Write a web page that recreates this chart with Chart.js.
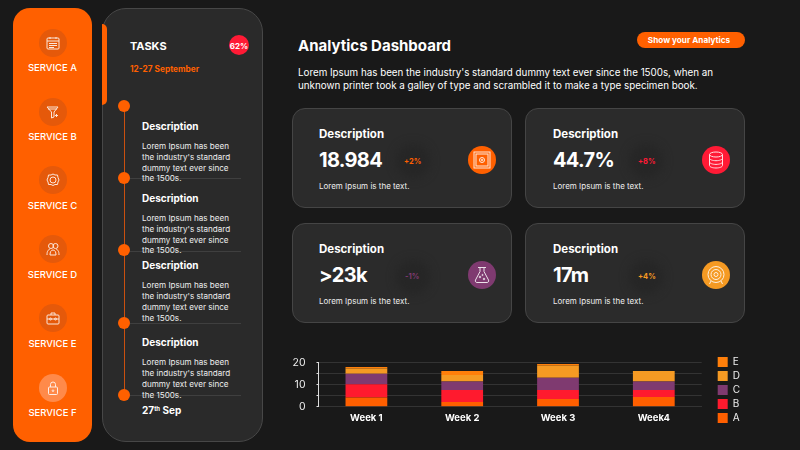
<!DOCTYPE html>
<html lang="en">
<head>
    <meta charset="UTF-8">
    <title>Analytics Dashboard</title>
    <script src="https://cdn.jsdelivr.net/npm/chart.js"></script>
    <style>
        html, body { margin: 0; padding: 0; }
        body {
            width: 800px; height: 450px; overflow: hidden; position: relative;
            background: #191919; color: #fff;
            font-family: 'Inter', sans-serif;
        }
        .t { position: absolute; transform: translateY(-50%); white-space: nowrap; line-height: 1; }
        .box { position: absolute; box-sizing: border-box; }
        .sidebar { left: 13px; top: 8px; width: 79px; height: 434px; background: #ff6000; border-radius: 17px; }
        .panel { left: 102px; top: 8px; width: 161px; height: 434px; background: #2a2a2a; border: 1px solid #474747; border-radius: 24px; }
        .tab { left: 102px; top: 24px; width: 5px; height: 81px; background: #ff6000; border-radius: 0 5px 5px 0; }
        .svc-icon { position: absolute; left: 39px; width: 28px; height: 28px; border-radius: 50%; background: #e5590a; display: flex; align-items: center; justify-content: center; }
        .svc-label { left: 13px; width: 79px; text-align: center; font-size: 9.500px; font-weight: 500; }
        .rail { left: 123.500px; top: 106px; width: 1px; height: 289px; background: #c9500f; }
        .node { position: absolute; left: 118px; width: 12px; height: 12px; border-radius: 50%; background: #ff6000; }
        .rule { left: 130px; width: 111px; height: 1px; background: #3f3f3f; }
        .task-head { left: 142px; font-size: 10px; font-weight: 700; }
        .task-line { left: 142px; font-size: 8.100px; color: #eee; }
        .card { width: 220px; height: 100px; background: #2b2b2b; border: 1px solid #454545; border-radius: 13px; }
        .card-head { font-size: 11.500px; font-weight: 700; }
        .card-num { font-size: 20px; font-weight: 700; letter-spacing: -.7px; }
        .card-pct { font-size: 7.500px; font-weight: 700; }
        .card-sub { font-size: 8px; color: #eee; }
        .glow { position: absolute; width: 34px; height: 34px; border-radius: 50%; background: #262626; filter: blur(5px); }
        .card-icon { position: absolute; width: 28px; height: 28px; border-radius: 50%; display: flex; align-items: center; justify-content: center; }
        svg { fill: none; stroke: #fff; stroke-width: 1; opacity: .85; }
        #chartWrap { position: absolute; left: 280px; top: 345px; width: 470px; height: 90px; }
    </style>
</head>
<body>
    <div class="box sidebar"></div>
    <div class="box panel"></div>
    <div class="box tab"></div>

    <div class="svc-icon" style="top:29px"><svg width="14" height="14" viewBox="0 0 14 14"><rect x="1" y="2" width="12" height="11" rx="1"/><path d="M1 5h12M4 1v2M10 1v2M3 7.500h8M3 9.500h8M3 11.500h5"/></svg></div>
    <div class="svc-icon" style="top:98px"><svg width="14" height="14" viewBox="0 0 14 14"><path d="M1 2h11L8 7v5L5.500 13V7zM2 4h9M10.500 9v3M9 10.500h3"/></svg></div>
    <div class="svc-icon" style="top:166px"><svg width="14" height="14" viewBox="0 0 14 14"><path d="M7 1l2 1 2.500 0 .5 2.500 1 2.500-1 2-.5 2.500-2.500 0-2 1-2-1-2.500 0-.5-2.500-1-2 1-2.500.5-2.500 2.500 0z"/><circle cx="7" cy="7" r="3"/></svg></div>
    <div class="svc-icon" style="top:235px"><svg width="14" height="14" viewBox="0 0 14 14"><circle cx="5" cy="4" r="2.500"/><circle cx="9.500" cy="4" r="2.500"/><path d="M1 13c0-4 1-5 3-6M13 13c0-4-1-5-3-6M4 13c0-3 1-5 3-5s3 2 3 5z"/></svg></div>
    <div class="svc-icon" style="top:304px"><svg width="14" height="14" viewBox="0 0 14 14"><rect x="1" y="4" width="12" height="9" rx="1"/><path d="M5 4V2h4v2M1 8h12"/><circle cx="4.500" cy="8" r="1"/><circle cx="9.500" cy="8" r="1"/></svg></div>
    <div class="svc-icon" style="top:374px;background:#ff8a4a"><svg width="14" height="14" viewBox="0 0 14 14"><rect x="2.500" y="6" width="9" height="7.500" rx="1"/><path d="M4.500 6V3.500a2.500 2.500 0 0 1 5 0V6"/><circle cx="7" cy="9.700" r=".8"/></svg></div>

    <div class="t svc-label" style="top:68px">SERVICE A</div>
    <div class="t svc-label" style="top:137px">SERVICE B</div>
    <div class="t svc-label" style="top:206px">SERVICE C</div>
    <div class="t svc-label" style="top:275px">SERVICE D</div>
    <div class="t svc-label" style="top:344px">SERVICE E</div>
    <div class="t svc-label" style="top:413px">SERVICE F</div>

    <div class="t" style="left:130px;top:46px;font-size:11px;font-weight:700">TASKS</div>
    <div class="box" style="left:229px;top:35px;width:20px;height:20px;border-radius:50%;background:#ff1a35"></div>
    <div class="t" style="left:229px;width:20px;text-align:center;top:46px;font-size:8px;font-weight:700">62%</div>
    <div class="t" style="left:130px;top:69px;font-size:8.300px;font-weight:700;color:#ff6000">12-27 September</div>

    <div class="box rail"></div>
    <div class="node" style="top:100px"></div>
    <div class="node" style="top:172px"></div>
    <div class="node" style="top:244px"></div>
    <div class="node" style="top:317px"></div>
    <div class="node" style="top:389px"></div>
    <div class="box rule" style="top:178px"></div>
    <div class="box rule" style="top:251px"></div>
    <div class="box rule" style="top:323px"></div>
    <div class="box rule" style="top:395px"></div>

    <div class="t task-head" style="top:126px">Description</div>
    <div class="t task-line" style="top:146px">Lorem Ipsum has been</div>
    <div class="t task-line" style="top:157px">the industry's standard</div>
    <div class="t task-line" style="top:168px">dummy text ever since</div>
    <div class="t task-line" style="top:178px">the 1500s.</div>

    <div class="t task-head" style="top:198px">Description</div>
    <div class="t task-line" style="top:218px">Lorem Ipsum has been</div>
    <div class="t task-line" style="top:229px">the industry's standard</div>
    <div class="t task-line" style="top:240px">dummy text ever since</div>
    <div class="t task-line" style="top:250px">the 1500s.</div>

    <div class="t task-head" style="top:265px">Description</div>
    <div class="t task-line" style="top:285px">Lorem Ipsum has been</div>
    <div class="t task-line" style="top:296px">the industry's standard</div>
    <div class="t task-line" style="top:307px">dummy text ever since</div>
    <div class="t task-line" style="top:318px">the 1500s.</div>

    <div class="t task-head" style="top:342px">Description</div>
    <div class="t task-line" style="top:362px">Lorem Ipsum has been</div>
    <div class="t task-line" style="top:373px">the industry's standard</div>
    <div class="t task-line" style="top:384px">dummy text ever since</div>
    <div class="t task-line" style="top:395px">the 1500s.</div>
    <div class="t task-head" style="top:410px">27<sup style="font-size:6px;vertical-align:3px;line-height:0">th</sup> Sep</div>

    <div class="t" style="left:298px;top:45px;font-size:15px;font-weight:700">Analytics Dashboard</div>
    <div class="box" style="left:637px;top:32px;width:108px;height:16px;border-radius:8px;background:#ff6000"></div>
    <div class="t" style="left:635px;width:108px;text-align:center;top:40px;font-size:8.200px;font-weight:700">Show your Analytics</div>
    <div class="t" style="left:298px;top:73px;font-size:9.800px">Lorem Ipsum has been the industry's standard dummy text ever since the 1500s, when an</div>
    <div class="t" style="left:298px;top:86px;font-size:9.800px">unknown printer took a galley of type and scrambled it to make a type specimen book.</div>

    <div class="box card" style="left:292px;top:108px"></div>
    <div class="box card" style="left:525px;top:108px"></div>
    <div class="box card" style="left:292px;top:223px"></div>
    <div class="box card" style="left:525px;top:223px"></div>

    <div class="t card-head" style="left:319px;top:135px">Description</div>
    <div class="t card-num" style="left:319px;top:160px">18.984</div>
    <div class="glow" style="left:396px;top:144px"></div>
    <div class="t card-pct" style="left:404px;top:162px;color:#ff6000">+2%</div>
    <div class="card-icon" style="left:468px;top:146px;background:#ff6000"><svg width="18" height="18" viewBox="0 0 18 18"><rect x="1" y="1" width="16" height="16"/><rect x="3" y="3" width="12" height="12"/><circle cx="9" cy="9" r="2.500"/><circle cx="9" cy="9" r=".8"/></svg></div>
    <div class="t card-sub" style="left:319px;top:186px">Lorem Ipsum is the text.</div>

    <div class="t card-head" style="left:553px;top:135px">Description</div>
    <div class="t card-num" style="left:553px;top:160px">44.7%</div>
    <div class="glow" style="left:629px;top:144px"></div>
    <div class="t card-pct" style="left:638px;top:162px;color:#ff1a35">+8%</div>
    <div class="card-icon" style="left:702px;top:146px;background:#ff1a35"><svg width="16" height="18" viewBox="0 0 16 18"><ellipse cx="8" cy="3.500" rx="6.500" ry="2.500"/><path d="M1.500 3.500v11c0 1.400 3 2.500 6.500 2.500s6.500-1.100 6.500-2.500v-11M1.500 7.200c0 1.400 3 2.500 6.500 2.500s6.500-1.100 6.500-2.500M1.500 10.900c0 1.400 3 2.500 6.500 2.500s6.500-1.100 6.500-2.500"/></svg></div>
    <div class="t card-sub" style="left:553px;top:186px">Lorem Ipsum is the text.</div>

    <div class="t card-head" style="left:319px;top:250px">Description</div>
    <div class="t card-num" style="left:319px;top:275px">&gt;23k</div>
    <div class="glow" style="left:396px;top:260px"></div>
    <div class="t card-pct" style="left:405px;top:277px;color:#7f3a70">-1%</div>
    <div class="card-icon" style="left:468px;top:261px;background:#7f3a70"><svg width="16" height="18" viewBox="0 0 16 18"><path d="M4 1.500h8M6 1.500v4L1.500 14c-.6 1.400.2 2.500 1.500 2.500h10c1.300 0 2.100-1.100 1.500-2.500L10 5.500v-4"/><circle cx="6" cy="11" r=".8"/><circle cx="10" cy="13" r=".8"/><circle cx="8.500" cy="9" r=".6"/></svg></div>
    <div class="t card-sub" style="left:319px;top:301px">Lorem Ipsum is the text.</div>

    <div class="t card-head" style="left:553px;top:250px">Description</div>
    <div class="t card-num" style="left:553px;top:275px">17m</div>
    <div class="glow" style="left:629px;top:260px"></div>
    <div class="t card-pct" style="left:638px;top:277px;color:#f59a23">+4%</div>
    <div class="card-icon" style="left:702px;top:261px;background:#f59a23"><svg width="20" height="20" viewBox="0 0 20 20"><circle cx="10" cy="9.500" r="8"/><circle cx="10" cy="9.500" r="5"/><circle cx="10" cy="9.500" r="2"/><path d="M5 16l-1.500 3M15 16l1.500 3"/></svg></div>
    <div class="t card-sub" style="left:553px;top:301px">Lorem Ipsum is the text.</div>

    <div id="chartWrap"><canvas id="weekChart"></canvas></div>

    <script>
        // values
        const weeks = ['Week 1', 'Week 2', 'Week 3', 'Week4'];
        const seriesA = [4.2, 2.1, 3.5, 4.4];
        const seriesB = [6.0, 5.5, 4.1, 3.2];
        const seriesC = [4.8, 3.8, 5.6, 3.8];
        const seriesD = [2.4, 3.0, 5.5, 4.8];
        const seriesE = [0.6, 1.8, 0.7, 0.0];
        const yTicks = [0, 10, 20];

        const stacks = [
            { label: 'A', data: seriesA, backgroundColor: '#ff5f00' },
            { label: 'B', data: seriesB, backgroundColor: '#ff1a2e' },
            { label: 'C', data: seriesC, backgroundColor: '#7f3a70' },
            { label: 'D', data: seriesD, backgroundColor: '#f59a23' },
            { label: 'E', data: seriesE, backgroundColor: '#ff7f0a' }
        ];

        // empty axes, only there to hold the plot away from the top and the legend
        const spacer = { display: true, grid: { display: false }, border: { display: false }, ticks: { display: false } };

        new Chart(document.getElementById('weekChart'), {
            type: 'bar',
            data: {
                labels: weeks,
                datasets: stacks.map(s => ({ ...s, xAxisID: 'x', yAxisID: 'y', categoryPercentage: 0.436, barPercentage: 1 }))
            },
            options: {
                responsive: true,
                maintainAspectRatio: false,
                animation: false,
                plugins: {
                    tooltip: { enabled: false },
                    legend: {
                        position: 'right',
                        reverse: true,
                        labels: { color: '#eee', boxWidth: 10, boxHeight: 10, padding: 4, font: { family: 'Inter', size: 10 } }
                    }
                },
                scales: {
                    x: {
                        stacked: true,
                        afterFit: axis => { axis.height = 28.3; },
                        grid: { display: false, drawTicks: false },
                        border: { color: '#333' },
                        ticks: { color: '#fff', padding: 6, font: { family: 'Inter', size: 9.5, weight: 'bold' } }
                    },
                    y: {
                        stacked: true,
                        min: 0,
                        max: 20,
                        afterFit: axis => { axis.width = 38.5; },
                        grid: { color: '#333', tickLength: 2, tickColor: '#ddd' },
                        border: { color: '#ddd', width: 1 },
                        ticks: {
                            stepSize: 5,
                            autoSkip: false,
                            color: '#eee',
                            padding: 11,
                            font: { family: 'Inter', size: 10.5 },
                            callback: v => yTicks.includes(v) ? v : ''
                        }
                    },
                    topGap: { ...spacer, type: 'category', position: 'top', afterFit: axis => { axis.height = 17.7; } },
                    rightGap: { ...spacer, type: 'linear', position: 'right', afterFit: axis => { axis.width = 12; } }
                }
            }
        });
    </script>
</body>
</html>
